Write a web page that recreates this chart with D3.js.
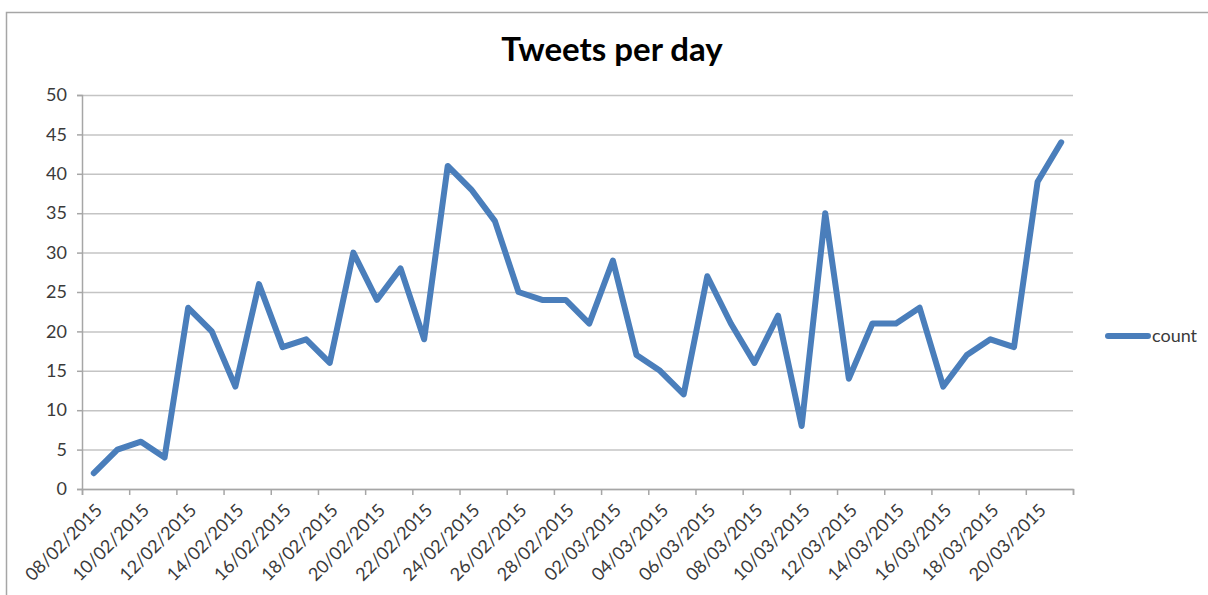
<!DOCTYPE html>
<html>
<head>
<meta charset="utf-8">
<script src="https://cdn.jsdelivr.net/npm/d3@7"></script>
<style>
  html, body { margin: 0; padding: 0; background: #fff; }
  svg { display: block; }
  text { font-family: Lato, "Open Sans", sans-serif; }
</style>
</head>
<body>
<svg id="chart" width="1208" height="595"></svg>
<script>
const categories = [
  "08/02/2015","09/02/2015","10/02/2015","11/02/2015","12/02/2015","13/02/2015","14/02/2015",
  "15/02/2015","16/02/2015","17/02/2015","18/02/2015","19/02/2015","20/02/2015","21/02/2015",
  "22/02/2015","23/02/2015","24/02/2015","25/02/2015","26/02/2015","27/02/2015","28/02/2015",
  "01/03/2015","02/03/2015","03/03/2015","04/03/2015","05/03/2015","06/03/2015","07/03/2015",
  "08/03/2015","09/03/2015","10/03/2015","11/03/2015","12/03/2015","13/03/2015","14/03/2015",
  "15/03/2015","16/03/2015","17/03/2015","18/03/2015","19/03/2015","20/03/2015","21/03/2015"
];
const counts = [
  2, 5, 6, 4, 23, 20, 13,
  26, 18, 19, 16, 30, 24, 28,
  19, 41, 38, 34, 25, 24, 24,
  21, 29, 17, 15, 12, 27, 21,
  16, 22, 8, 35, 14, 21, 21,
  23, 13, 17, 19, 18, 39, 44
];
const yTicks = [0, 5, 10, 15, 20, 25, 30, 35, 40, 45, 50];
const seriesName = "count";
const titleText = "Tweets per day";

(function () {
const svg = d3.select("#chart");
const pLeft = 82, pRight = 1073, pTop = 95, pBottom = 489;
const lineColor = "#4a7ebb";
const gridColor = "#c4c4c4";
const textColor = "#3a3a3a";

// chart border
svg.append("rect")
  .attr("x", 6.5).attr("y", 12.5)
  .attr("width", 1400).attr("height", 800)
  .attr("fill", "none").attr("stroke", "#a6a6a6").attr("stroke-width", 1.5);

const x = d3.scaleBand().domain(categories).range([pLeft, pRight]).padding(0);
const xIdx = d3.scaleLinear().domain([0, categories.length]).range([pLeft, pRight]);
const y = d3.scaleLinear().domain([0, 50]).range([pBottom, pTop]);

// gridlines
const grid = svg.append("g").attr("transform", `translate(${pLeft},0)`)
  .call(d3.axisLeft(y).tickValues(yTicks).tickSize(-(pRight - pLeft)).tickFormat(""));
grid.select(".domain").remove();
grid.selectAll("line").attr("stroke", gridColor).attr("stroke-width", 1.5);

// y axis
const yAxis = svg.append("g").attr("transform", `translate(${pLeft},0)`)
  .call(d3.axisLeft(y).tickValues(yTicks).tickSize(5).tickPadding(10));
yAxis.select(".domain").attr("stroke", "#a6a6a6").attr("stroke-width", 1.5);
yAxis.selectAll("line").attr("stroke", "#a6a6a6").attr("stroke-width", 1.5);
yAxis.selectAll("text").attr("fill", textColor).style("font-size", "18px")
  .style("font-family", "Lato, sans-serif");

// x axis (tick marks every 2 categories)
const xTickVals = d3.range(0, categories.length + 1, 2);
const xAxis = svg.append("g").attr("transform", `translate(0,${pBottom})`)
  .call(d3.axisBottom(xIdx).tickValues(xTickVals).tickSize(6).tickFormat(""));
xAxis.select(".domain").attr("stroke", "#a6a6a6").attr("stroke-width", 1.5);
xAxis.selectAll("line").attr("stroke", "#a6a6a6").attr("stroke-width", 1.5);

// x labels
svg.append("g").selectAll("text")
  .data(categories.filter((d, i) => i % 2 === 0))
  .join("text")
  .attr("transform", d => `translate(${x(d) + x.bandwidth() / 2 + 5},${pBottom + 18}) rotate(-45)`)
  .attr("text-anchor", "end")
  .attr("dy", "0.35em")
  .attr("fill", textColor)
  .style("font-size", "18px")
  .text(d => d);

// line
const line = d3.line()
  .x((d, i) => x(categories[i]) + x.bandwidth() / 2)
  .y(d => y(d));
svg.append("path")
  .datum(counts)
  .attr("d", line)
  .attr("fill", "none")
  .attr("stroke", lineColor)
  .attr("stroke-width", 6)
  .attr("stroke-linejoin", "round")
  .attr("stroke-linecap", "round");

// title
svg.append("text")
  .attr("x", 612).attr("y", 61)
  .attr("text-anchor", "middle")
  .attr("fill", "#000")
  .style("font-size", "33px").style("font-weight", "bold")
  .text(titleText);

// legend
const lg = svg.append("g");
lg.append("line")
  .attr("x1", 1108).attr("x2", 1148).attr("y1", 336).attr("y2", 336)
  .attr("stroke", lineColor).attr("stroke-width", 6).attr("stroke-linecap", "round");
lg.append("text")
  .attr("x", 1152).attr("y", 342)
  .attr("fill", textColor)
  .style("font-size", "18px")
  .text(seriesName);
})();
</script>
</body>
</html>
